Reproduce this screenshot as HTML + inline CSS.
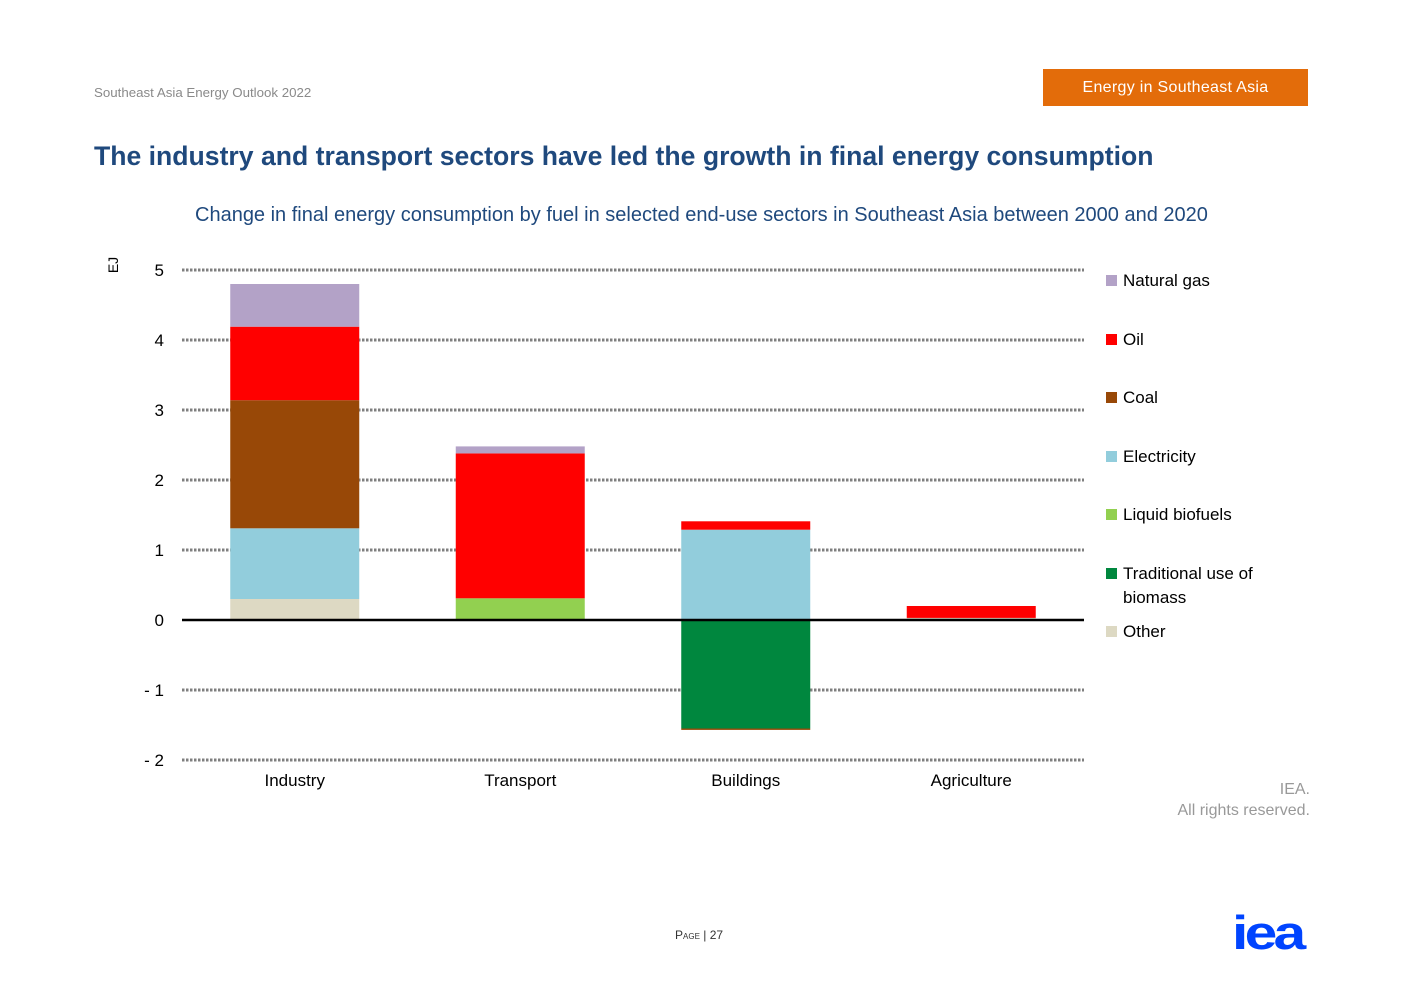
<!DOCTYPE html>
<html><head><meta charset="utf-8"><style>
body{margin:0;width:1403px;height:992px;background:#fff;font-family:"Liberation Sans",sans-serif;position:relative;overflow:hidden}
.a{position:absolute}
</style></head><body>
<div class="a" style="left:94px;top:85px;font-size:13.3px;color:#8a8a8a">Southeast Asia Energy Outlook 2022</div>
<div class="a" style="left:1043px;top:69px;width:265px;height:37px;background:#e36c0a;color:#fff;font-size:16px;line-height:37px;text-align:center;letter-spacing:0.3px">Energy in Southeast Asia</div>
<div class="a" style="left:94px;top:141px;font-size:26.6px;font-weight:bold;color:#1f497d">The industry and transport sectors have led the growth in final energy consumption</div>
<div class="a" style="left:195px;top:204px;font-size:20px;color:#1f497d;white-space:nowrap">Change in final energy consumption by fuel in selected end-use sectors in Southeast Asia between 2000 and 2020</div>
<svg class="a" style="left:0;top:0" width="1403" height="992" id="chart">
<text x="118" y="265" transform="rotate(-90 118 265)" text-anchor="middle" font-size="14" font-family="Liberation Sans">EJ</text>
</svg>
<div class="a" style="left:1100px;width:210px;text-align:right;top:779px;font-size:16px;color:#999;line-height:21px">IEA.<br>All rights reserved.</div>
<div class="a" style="left:675px;top:928px;font-size:12px;color:#333"><span style="font-variant:small-caps">Page</span> | 27</div>
<div class="a" style="left:1232px;top:905px;font-size:47px;font-weight:bold;color:#0044ff;letter-spacing:-3px;font-family:'Liberation Sans',sans-serif;transform:scaleX(1.25);transform-origin:left">iea</div>
<script>
const categories=["Industry","Transport","Buildings","Agriculture"];
const fuels=["Natural gas","Oil","Coal","Electricity","Liquid biofuels","Traditional use of biomass","Other"];
const colors=["#b3a2c7","#ff0000","#984807","#92cddc","#92d050","#00873e","#ddd9c3"];
const natGas=[0.61,0.1,0,0];
const oil=[1.05,2.07,0.12,0.17];
const coal=[1.83,0,-0.02,0];
const electricity=[1.01,0,1.29,0];
const liquidBiofuels=[0,0.31,0,0];
const tradBiomass=[0,0,-1.55,0];
const other=[0.3,0,0,0.03];
const yTicks=[5,4,3,2,1,0,-1,-2];
const yTickLabels=["5","4","3","2","1","0","- 1","- 2"];
const series=[natGas,oil,coal,electricity,liquidBiofuels,tradBiomass,other];
const svg=document.getElementById('chart');
const NS="http://www.w3.org/2000/svg";
const x0=182,x1=1084;
const y=v=>620-v*70;
const bw=(x1-x0)/categories.length;
function mk(t,a){const e=document.createElementNS(NS,t);for(const k in a)e.setAttribute(k,a[k]);svg.appendChild(e);return e;}
yTicks.forEach((t,i)=>{
 if(t!==0){const l=mk('line',{x1:x0,x2:x1,y1:y(t),y2:y(t),stroke:'#7f7f7f','stroke-width':3,'stroke-dasharray':'2.5 1.5'});
 
 }
 const tx=mk('text',{x:164,y:y(t)+6,'text-anchor':'end','font-size':17,'font-family':'Liberation Sans'});tx.textContent=yTickLabels[i];
 
 
});
const order=[6,4,5,3,2,1,0];
categories.forEach((c,ci)=>{
 const cx=x0+bw*ci+bw/2;let pos=0,neg=0;
 order.forEach(si=>{const v=series[si][ci];if(!v)return;
  let a,b;if(v>0){a=pos;b=pos+v;pos=b;}else{a=neg;b=neg+v;neg=b;}
  const r=mk('rect',{x:cx-64.5,y:y(Math.max(a,b)),width:129,height:Math.abs(y(a)-y(b)),fill:colors[si]});
  
  
 });
 const t=mk('text',{x:cx,y:786,'text-anchor':'middle','font-size':17,'font-family':'Liberation Sans'});t.textContent=c;
 
 
});
const z=mk('line',{x1:x0,x2:x1,y1:620,y2:620,stroke:'#000','stroke-width':2.5});


const ly=[280,339,397,456,514,573,631];
fuels.forEach((f,i)=>{
 const r=mk('rect',{x:1106,y:ly[i]-5,width:11,height:11,fill:colors[i]});
 
 
 const t=mk('text',{x:1123,y:ly[i]+6,'font-size':17,'font-family':'Liberation Sans'});
 if(f==="Traditional use of biomass"){t.innerHTML='<tspan x="1123">Traditional use of</tspan><tspan x="1123" dy="24">biomass</tspan>';}else t.textContent=f;
 
 
});
</script>
</body></html>
